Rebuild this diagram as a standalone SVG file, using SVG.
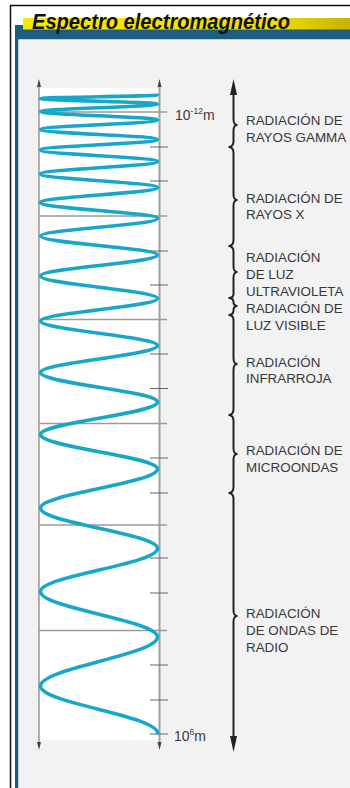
<svg xmlns="http://www.w3.org/2000/svg" width="350" height="788" viewBox="0 0 350 788">
<defs>
<linearGradient id="yel" x1="0" y1="0" x2="1" y2="0">
<stop offset="0" stop-color="#f7ea00"/>
<stop offset="0.75" stop-color="#f2e200"/>
<stop offset="1" stop-color="#c6b300"/>
</linearGradient>
<style>
.lbl{font-family:"Liberation Sans",Arial,sans-serif;font-size:13.4px;fill:#383838}
.sc{font-family:"Liberation Sans",Arial,sans-serif;font-size:14px;fill:#3a3a3a}
.sup{font-size:8.5px}
.long{stroke:#9a9a9a;stroke-width:1.4}
.tick{stroke:#666;stroke-width:1}
.wave{fill:none;stroke:#17a7c9;stroke-width:3.6;stroke-linecap:round}
</style>
</defs>
<rect x="0" y="0" width="350" height="788" fill="#ffffff"/>
<rect x="10.5" y="5.5" width="350" height="800" fill="#ffffff" stroke="#111" stroke-width="1.5"/>
<rect x="15" y="25" width="335" height="14.5" fill="#1d5d7e"/>
<rect x="15" y="25" width="3.5" height="763" fill="#1d5d7e"/>
<rect x="18.5" y="39.5" width="332" height="749" fill="#f2f2f2"/>
<rect x="23" y="18" width="327" height="11.5" fill="url(#yel)"/>
<text x="32" y="29" font-family="'Liberation Sans',Arial,sans-serif" font-size="21.5" font-weight="bold" font-style="italic" fill="#111" textLength="258" lengthAdjust="spacingAndGlyphs">Espectro electromagnético</text>

<g id="chart">
<rect x="39" y="88" width="121" height="652" fill="#ffffff"/>
<line x1="39" y1="84" x2="39" y2="745" stroke="#666" stroke-width="1"/>
<line x1="159.5" y1="84" x2="159.5" y2="745" stroke="#a0a0a0" stroke-width="2"/>
<polygon points="39,79 37,87 41,87" fill="#444"/>
<polygon points="159.5,79 157.5,87 161.5,87" fill="#444"/>
<polygon points="39,750 37,742 41,742" fill="#444"/>
<polygon points="159.5,750 157.5,742 161.5,742" fill="#444"/>
<line class="long" x1="39" y1="112" x2="167" y2="112"/>
<line class="long" x1="39" y1="216" x2="167" y2="216"/>
<line class="long" x1="39" y1="319.5" x2="167" y2="319.5"/>
<line class="long" x1="39" y1="423.5" x2="167" y2="423.5"/>
<line class="long" x1="39" y1="525" x2="167" y2="525"/>
<line class="long" x1="39" y1="630.5" x2="167" y2="630.5"/>
<line class="tick" x1="150" y1="147" x2="168" y2="147"/>
<line class="tick" x1="150" y1="181" x2="168" y2="181"/>
<line class="tick" x1="150" y1="251" x2="168" y2="251"/>
<line class="tick" x1="150" y1="285" x2="168" y2="285"/>
<line class="tick" x1="150" y1="354" x2="168" y2="354"/>
<line class="tick" x1="150" y1="388.5" x2="168" y2="388.5"/>
<line class="tick" x1="150" y1="458" x2="168" y2="458"/>
<line class="tick" x1="150" y1="493" x2="168" y2="493"/>
<line class="tick" x1="150" y1="558" x2="168" y2="558"/>
<line class="tick" x1="150" y1="593" x2="168" y2="593"/>
<line class="tick" x1="150" y1="665" x2="168" y2="665"/>
<line class="tick" x1="150" y1="700" x2="168" y2="700"/>
<line class="tick" x1="150" y1="734" x2="168" y2="734"/>
<path class="wave" d="M157.5,95 C157.5,96.27 40.5,97.23 40.5,98.5 C40.5,100.5 157.5,102 157.5,104 C157.5,106.73 40.5,108.77 40.5,111.5 C40.5,114.59 157.5,116.91 157.5,120 C157.5,123.46 40.5,126.04 40.5,129.5 C40.5,133.14 157.5,135.86 157.5,139.5 C157.5,143.32 40.5,146.18 40.5,150 C40.5,154.19 157.5,157.31 157.5,161.5 C157.5,166.05 40.5,169.45 40.5,174 C40.5,178.91 157.5,182.59 157.5,187.5 C157.5,192.96 40.5,197.04 40.5,202.5 C40.5,208.32 157.5,212.68 157.5,218.5 C157.5,224.87 40.5,229.63 40.5,236 C40.5,242.92 157.5,248.08 157.5,255 C157.5,262.64 40.5,268.36 40.5,276 C40.5,284.19 157.5,290.31 157.5,298.5 C157.5,306.69 40.5,312.81 40.5,321 C40.5,329.92 157.5,336.58 157.5,345.5 C157.5,355.33 40.5,362.67 40.5,372.5 C40.5,383.24 157.5,391.26 157.5,402 C157.5,413.83 40.5,422.67 40.5,434.5 C40.5,447.06 157.5,456.44 157.5,469 C157.5,483.2 40.5,493.8 40.5,508 C40.5,522.74 157.5,533.76 157.5,548.5 C157.5,564.15 40.5,575.85 40.5,591.5 C40.5,608.06 157.5,620.44 157.5,637 C157.5,654.84 40.5,668.16 40.5,686 C40.5,703.11 157.5,715.89 157.5,733"/>
<text class="sc" x="175" y="120">10<tspan class="sup" dy="-6">-12</tspan><tspan dy="6">m</tspan></text>
<text class="sc" x="174" y="741">10<tspan class="sup" dy="-6">6</tspan><tspan dy="6">m</tspan></text>
</g>

<g id="connectors">
<path fill="none" stroke="#222" stroke-width="2" d="M233.5,92 L233.5,119 C233.5,124 235,125 237.5,125 C235,125 233.5,126 233.5,131 L233.5,141 C233.5,146 231,147 228.5,147 C231,147 233.5,148 233.5,153 L233.5,194 C233.5,199 235,200 237.5,200 C235,200 233.5,201 233.5,206 L233.5,240 C233.5,245 231,246 228.5,246 C231,246 233.5,247 233.5,252 L233.5,266 C233.5,271 235,272 237.5,272 C235,272 233.5,273 233.5,278 L233.5,294 C233.5,297 231,298 228.5,298 C231,298 233.5,299 233.5,302 C233.5,305 235,306 237.5,306 C235,306 233.5,307 233.5,310 C233.5,314 231,315 228.5,315 C231,315 233.5,316 233.5,320 L233.5,358 C233.5,363 235,364 237.5,364 C235,364 233.5,365 233.5,370 L233.5,409 C233.5,414 231,415 228.5,415 C231,415 233.5,416 233.5,421 L233.5,448 C233.5,453 235,454 237.5,454 C235,454 233.5,455 233.5,460 L233.5,487 C233.5,492 231,493 228.5,493 C231,493 233.5,494 233.5,499 L233.5,610 C233.5,615 235,616 237.5,616 C235,616 233.5,617 233.5,622 L233.5,740"/>
<polygon points="233.5,79 230,95 237,95" fill="#222"/>
<polygon points="233.5,752 230,736 237,736" fill="#222"/>
</g>

<g id="gamma"><text class="lbl" x="246" y="125">RADIACIÓN DE</text><text class="lbl" x="246" y="142">RAYOS GAMMA</text></g>
<g id="xray"><text class="lbl" x="246" y="203">RADIACIÓN DE</text><text class="lbl" x="246" y="219">RAYOS X</text></g>
<g id="uv"><text class="lbl" x="246" y="262">RADIACIÓN</text><text class="lbl" x="246" y="279">DE LUZ</text><text class="lbl" x="246" y="296">ULTRAVIOLETA</text></g>
<g id="visible"><text class="lbl" x="246" y="313">RADIACIÓN DE</text><text class="lbl" x="246" y="330">LUZ VISIBLE</text></g>
<g id="ir"><text class="lbl" x="246" y="367">RADIACIÓN</text><text class="lbl" x="246" y="383">INFRARROJA</text></g>
<g id="micro"><text class="lbl" x="246" y="455">RADIACIÓN DE</text><text class="lbl" x="246" y="472">MICROONDAS</text></g>
<g id="radio"><text class="lbl" x="246" y="618">RADIACIÓN</text><text class="lbl" x="246" y="635">DE ONDAS DE</text><text class="lbl" x="246" y="652">RADIO</text></g>
</svg>
